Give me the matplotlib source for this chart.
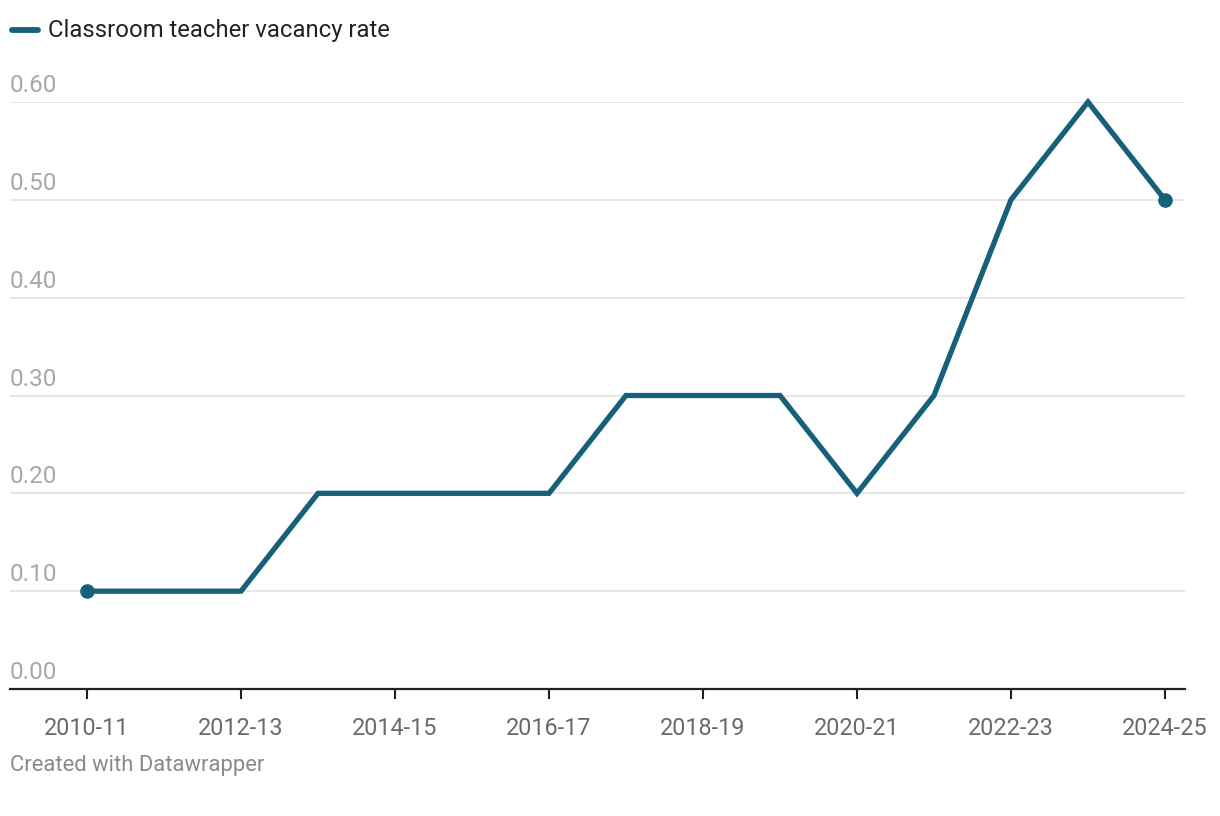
import matplotlib
matplotlib.use("Agg")
import matplotlib.pyplot as plt
import matplotlib.transforms as mtransforms
from matplotlib import rcParams
import numpy as np

# 字体
rcParams.update({"font.family": ["Roboto", "DejaVu Sans"], "font.size": 16})

years = ["2010-11", "2011-12", "2012-13", "2013-14", "2014-15", "2015-16", "2016-17",
         "2017-18", "2018-19", "2019-20", "2020-21", "2021-22", "2022-23", "2023-24", "2024-25"]
vacancy_rate = [0.1, 0.1, 0.1, 0.2, 0.2, 0.2, 0.2, 0.3, 0.3, 0.3, 0.2, 0.3, 0.5, 0.6, 0.5]
y_ticks = [0.0, 0.1, 0.2, 0.3, 0.4, 0.5, 0.6]
series_name = "Classroom teacher vacancy rate"

line_color = "#16607a"
W, H = 1220, 816

fig = plt.figure(figsize=(W / 100, H / 100), dpi=100)
ax = fig.add_axes([10 / W, 1 - 689 / H, 1175 / W, (689 - 102) / H])

x = np.arange(len(years))
ax.plot(x, vacancy_rate, color=line_color, lw=3.8, solid_joinstyle="miter",
        solid_capstyle="butt", clip_on=False, zorder=3)
ax.plot([x[0], x[-1]], [vacancy_rate[0], vacancy_rate[-1]], "o", color=line_color,
        ms=9.5, clip_on=False, zorder=4)

ax.set_xlim(-1.0, 14.26)
ax.set_ylim(0, 0.6)

# 网格线
for v in y_ticks[1:]:
    ax.axhline(v, color="#e2e2e2", lw=1.2, zorder=1)

# y 轴标签 (在网格线上方)
off = mtransforms.offset_copy(ax.get_yaxis_transform(), fig=fig, x=0, y=5, units="dots")
for v in y_ticks:
    ax.text(0, v, "%.2f" % v, transform=off, ha="left", va="bottom",
            color="#a8a8a8", fontsize=17.5)

for s in ["top", "right", "left"]:
    ax.spines[s].set_visible(False)
ax.spines["bottom"].set_color("#222222")
ax.spines["bottom"].set_linewidth(1.6)
ax.set_yticks([])
ax.set_xticks(x[::2])
ax.set_xticklabels(years[::2], color="#6a6a6a", fontsize=16.8)
ax.tick_params(axis="x", length=7, width=1.5, color="#222222", pad=13)

# 图例
fig.add_artist(plt.Line2D([12 / W, 38 / W], [1 - 30 / H, 1 - 30 / H], color=line_color,
                          lw=4.2, solid_capstyle="round"))
fig.text(48 / W, 1 - 31 / H, series_name, ha="left", va="center", color="#222222", fontsize=17.2)

fig.text(10 / W, 1 - 766 / H, "Created with Datawrapper", ha="left", va="center",
         color="#8a8a8a", fontsize=15.8)

fig.savefig("out.png", dpi=100)
